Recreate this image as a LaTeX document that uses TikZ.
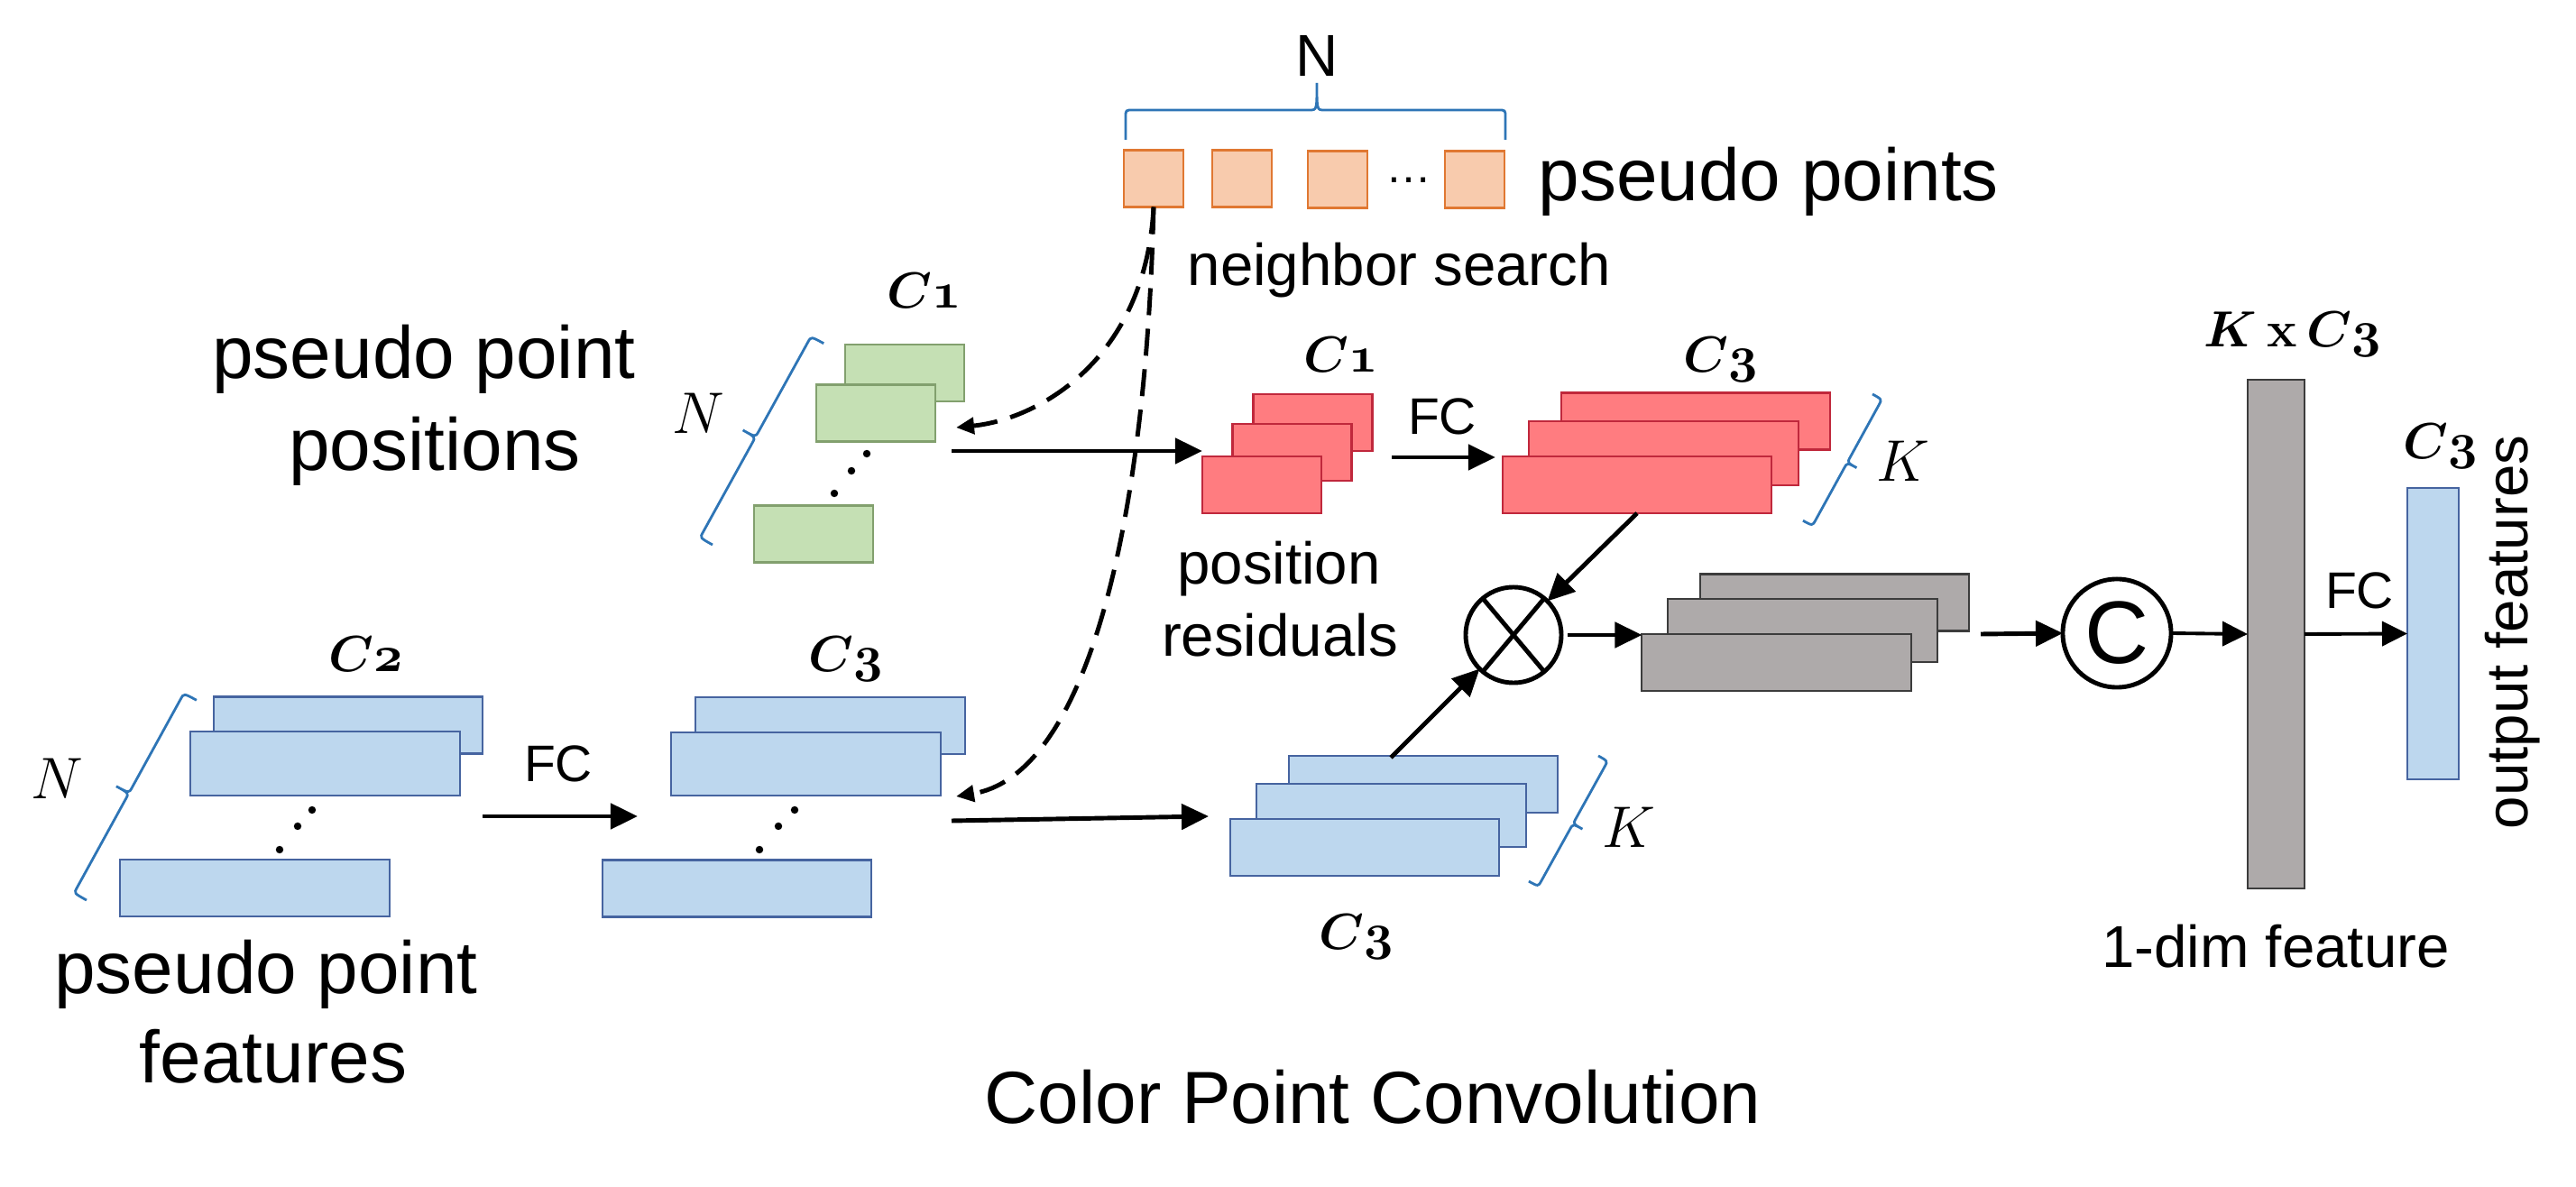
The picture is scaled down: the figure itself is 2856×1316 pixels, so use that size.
\RequirePackage{fix-cm}
\documentclass[tikz,border=0pt]{standalone}
\usepackage[no-math]{fontspec}
\setmainfont{Liberation Sans}
\usetikzlibrary{arrows.meta}
\definecolor{orfill}{RGB}{248,203,173}
\definecolor{ordraw}{RGB}{224,120,50}
\definecolor{grfill}{RGB}{197,224,180}
\definecolor{grdraw}{RGB}{130,160,110}
\definecolor{rdfill}{RGB}{255,124,128}
\definecolor{rddraw}{RGB}{192,40,60}
\definecolor{blfill}{RGB}{189,215,238}
\definecolor{bldraw}{RGB}{70,100,160}
\definecolor{gyfill}{RGB}{174,170,170}
\definecolor{gydraw}{RGB}{60,60,60}
\definecolor{bracecol}{RGB}{46,117,182}
\newcommand\fbig{\fontsize{23.3}{28}\selectfont}
\newcommand\fmed{\fontsize{18.6}{22}\selectfont}
\newcommand\ffc{\fontsize{16.2}{19}\selectfont}
\newcommand\flab{\fontsize{16}{19}\selectfont\boldmath}
\newcommand\fnk{\fontsize{18.5}{22}\selectfont}
\newcommand\fbigc{\fontsize{28}{32}\selectfont}
\newcommand\cidx[1]{$C\mathnormal{#1}$}
% slanted brace: start x, start y, angle, length, half-height
\newcommand\slbrace[5]{%
\begin{scope}[shift={(#1,#2)}, rotate=#3, x=0.01cm, y=0.01cm]
\draw[draw=bracecol, line width=0.8pt] (0,0) .. controls (0,#5) .. (7,#5) -- ({#4/2-7},#5) .. controls ({#4/2},#5) .. ({#4/2},{2*#5}) .. controls ({#4/2},#5) .. ({#4/2+7},#5) -- ({#4-7},#5) .. controls (#4,#5) .. (#4,0);
\end{scope}}
\tikzset{
  box/.style={rectangle, inner sep=0pt, outer sep=0pt, line width=0.6pt},
  obox/.style={box, fill=orfill, draw=ordraw, minimum width=0.66cm, minimum height=0.63cm},
  gbx/.style={box, fill=grfill, draw=grdraw, minimum width=1.32cm, minimum height=0.63cm},
  rsm/.style={box, fill=rdfill, draw=rddraw, minimum width=1.32cm, minimum height=0.63cm},
  rbig/.style={box, fill=rdfill, draw=rddraw, minimum width=2.98cm, minimum height=0.63cm},
  bbig/.style={box, fill=blfill, draw=bldraw, minimum width=2.98cm, minimum height=0.63cm},
  gbig/.style={box, fill=gyfill, draw=gydraw, minimum width=2.98cm, minimum height=0.63cm},
  arr/.style={line width=1.4pt, -{Triangle[length=0.3cm,width=0.28cm]}},
  arrthin/.style={line width=1.1pt, -{Triangle[length=0.28cm,width=0.27cm]}},
  dsh/.style={line width=1.4pt, dash pattern=on 0.3cm off 0.15cm, -{Triangle[length=0.2cm,width=0.18cm]}},
  dotf/.style={fill=black},
  circ/.style={circle, draw=black, line width=1.4pt, inner sep=0pt, outer sep=0pt, fill=white}
}
\begin{document}
\begin{tikzpicture}[x=0.01cm,y=-0.01cm]
\useasboundingbox (0,0) rectangle (2856,1316);
% ---- pseudo points (top)
\node[obox] (o1) at (1279,198) {};
\node[obox] (o2) at (1377,198) {};
\node[obox] (o3) at (1483,199) {};
\node[obox] (o4) at (1635,199) {};
\node[font=\fontsize{14.5}{16}\selectfont, anchor=base, inner sep=0pt] (dts) at (1562,203) {…};
\draw[draw=bracecol, line width=0.8pt] (1248,155) -- (1248,130) .. controls (1248,122) .. (1256,122) -- (1452,122) .. controls (1460,122) .. (1460,92) .. controls (1460,122) .. (1468,122) -- (1661,122) .. controls (1669,122) .. (1669,130) -- (1669,155);
\node[font=\fmed] (ntop) at (1460,62) {N};
\node[font=\fbig, anchor=base west, inner sep=0pt] (pp) at (1705,223) {pseudo points};
\node[font=\fmed, anchor=base west, inner sep=0pt] (ns) at (1316,317) {neighbor search};
% ---- pseudo point positions (green)
\node[gbx] (gb) at (1003,413.5) {};
\node[gbx] (gf) at (971,458) {};
\node[gbx] (gl) at (902,592) {};
\fill[dotf] (961,503) circle (1.2pt) (944,522) circle (1.2pt) (925,547) circle (1.2pt);
\slbrace{790}{604}{61.1}{255}{16}
\node[font=\fnk] (ng) at (774,458) {$N$};
\node[font=\flab, anchor=base west, inner sep=0pt] (cg) at (983,342) {\cidx{1}};
\node[font=\fbig, anchor=base, inner sep=0pt] (ppa) at (470,420) {pseudo point};
\node[font=\fbig, anchor=base, inner sep=0pt] (ppb) at (482,522) {positions};
% ---- pseudo point features (blue left)
\node[bbig] (fb) at (386,804) {};
\node[bbig, minimum height=0.71cm] (ff) at (360.5,846.5) {};
\node[bbig] (fl) at (282.5,984.5) {};
\fill[dotf] (346,898) circle (1.2pt) (330,916) circle (1.2pt) (310,942) circle (1.2pt);
\slbrace{96}{998}{61.2}{253}{16}
\node[font=\fnk] (nf) at (63,863) {$N$};
\node[font=\flab, anchor=base west, inner sep=0pt] (c2) at (364,745) {\cidx{2}};
\node[font=\fbig, anchor=base, inner sep=0pt] (pfa) at (295,1102) {pseudo point};
\node[font=\fbig, anchor=base, inner sep=0pt] (pfb) at (303,1201) {features};
\coordinate (a3s) at (535,905);
\coordinate (a3e) at (707,905);
\draw[arr] (a3s) -- (a3e);
\node[font=\ffc, anchor=base, inner sep=0pt] (fc1) at (619,867) {FC};
% ---- middle blue
\node[bbig] (mb) at (920.5,804.5) {};
\node[bbig, minimum height=0.70cm] (mf) at (893.5,847) {};
\node[bbig] (ml) at (817,985) {};
\fill[dotf] (881,898) circle (1.2pt) (863,916) circle (1.2pt) (842,942) circle (1.2pt);
\node[font=\flab, anchor=base west, inner sep=0pt] (c3m) at (896,745) {\cidx{3}};
% ---- red small
\node[rsm] (rb) at (1455.5,468.5) {};
\node[rsm] (rm) at (1432.5,501.5) {};
\node[rsm] (rf) at (1399,537.5) {};
\node[font=\flab, anchor=base west, inner sep=0pt] (c1r) at (1445,413) {\cidx{1}};
\node[font=\fmed, anchor=base, inner sep=0pt] (posa) at (1418,648) {position};
\node[font=\fmed, anchor=base, inner sep=0pt] (posb) at (1419,728) {residuals};
% ---- red big
\node[rbig] (Rb) at (1880,467) {};
\node[rbig, minimum height=0.71cm] (Rm) at (1844.5,502.5) {};
\node[rbig] (Rf) at (1815,537.5) {};
\node[font=\flab, anchor=base west, inner sep=0pt] (c3r) at (1866,413) {\cidx{3}};
\slbrace{2076}{437}{-118.8}{160}{12}
\node[font=\fnk] (kr) at (2110,511) {$K$};
\coordinate (a2s) at (1543,507);
\draw[arr, shorten >=0.08cm] (a2s) -- (a2s -| Rf.west);
\node[font=\ffc, anchor=base, inner sep=0pt] (fc2) at (1599,482) {FC};
% ---- blue K stack
\node[bbig] (Kb) at (1578,869.5) {};
\node[bbig, minimum height=0.70cm] (Km) at (1542.5,904) {};
\node[bbig] (Kf) at (1513,939.5) {};
\slbrace{1772}{838}{-119}{159}{12}
\node[font=\fnk] (kb) at (1806,917) {$K$};
\node[font=\flab, anchor=base west, inner sep=0pt] (c3b) at (1462,1053) {\cidx{3}};
% ---- gray stack
\node[gbig] (Gb) at (2034,668) {};
\node[gbig, minimum height=0.70cm] (Gm) at (1998.5,699) {};
\node[gbig] (Gf) at (1969.5,734.5) {};
% ---- operators
\node[circ, minimum size=1.06cm] (ot) at (1678,704) {};
\draw[line width=1.4pt] (ot.130) -- (ot.-50) (ot.50) -- (ot.-130);
\node[circ, minimum size=1.2cm, font=\fbigc] (cc) at (2347,702) {C};
% ---- right part
\node[box, fill=gyfill, draw=gydraw, minimum width=0.63cm, minimum height=5.64cm] (bar) at (2523.5,703) {};
\node[box, fill=blfill, draw=bldraw, minimum width=0.57cm, minimum height=3.23cm] (outb) at (2697.5,702.5) {};
\node[font=\flab, anchor=base west, inner sep=0pt] (kxc) at (2443,385) {$K\,\mathrm{x}\,C\mathnormal{3}$};
\node[font=\flab, anchor=base west, inner sep=0pt] (c3o) at (2664,509) {\cidx{3}};
\node[font=\ffc, anchor=base, inner sep=0pt] (fc3) at (2616,675) {FC};
\node[font=\fmed, anchor=base, inner sep=0pt, rotate=90] (of) at (2802,701) {output features};
\node[font=\fmed, anchor=base, inner sep=0pt] (odf) at (2523,1073) {1-dim feature};
\node[font=\fbig, anchor=base, inner sep=0pt] (title) at (1522,1246) {Color Point Convolution};
% ---- connectors
\coordinate (a1s) at (1055,500);
\draw[arr] (a1s) -- (a1s -| rf.west);
\coordinate (a4s) at (1055,910);
\coordinate (a4e) at (1340,905);
\draw[arr] (a4s) -- (a4e);
\coordinate (d1e) at (1060,474);
\coordinate (d2e) at (1060,883);
\draw[dsh] (o1.south) .. controls (1270,400) and (1150,465) .. (d1e);
\draw[dsh] (o1.south) .. controls (1270,600) and (1200,860) .. (d2e);
\draw[arr] (Rf.south) -- (ot.45);
\coordinate (kbt) at (1542,840);
\draw[arr] (kbt) -- (ot.225);
\draw[arr, shorten <=0.07cm] (ot.east) -- (ot.east -| Gf.west);
\coordinate (gs) at (2196,703);
\draw[arr] (gs) -- (cc.west);
\draw[arrthin] (cc.east) -- (bar.west);
\draw[arrthin] (bar.east) -- (outb.west);
\end{tikzpicture}
\end{document}
